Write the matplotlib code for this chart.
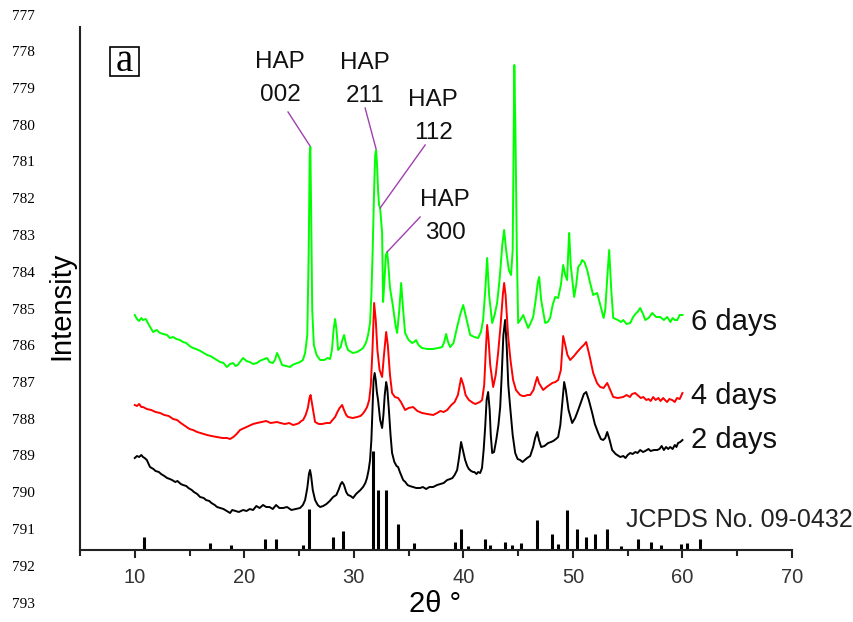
import matplotlib
matplotlib.use("Agg")
import matplotlib.pyplot as plt
from matplotlib.patches import Rectangle

plt.rcParams["font.family"] = ["Liberation Sans", "DejaVu Sans"]

# %% XRD patterns (2theta in deg, intensity in a.u., curves already offset)
x2d = [10.0, 10.2, 10.4, 10.6, 10.75, 10.9, 11.1, 11.39, 11.7, 11.9, 12.2, 12.4, 12.7,
       12.95, 13.2, 13.4, 13.7, 13.9, 14.2, 14.41, 14.7, 14.9, 15.2, 15.4, 15.7, 15.96,
       16.3, 16.5, 16.8, 17.0, 17.3, 17.51, 17.8, 18.1, 18.4, 18.70, 18.9, 19.2, 19.5,
       19.89, 20.2, 20.5, 20.8, 21.1, 21.4, 21.71, 22.0, 22.3, 22.6, 22.9, 23.2, 23.54,
       23.9, 24.3, 24.7, 25.09, 25.35, 25.55, 25.75, 25.9, 26.0, 26.1, 26.25, 26.46,
       26.7, 26.92, 27.2, 27.5, 27.8, 28.11, 28.4, 28.6, 28.8, 28.93, 29.1, 29.3, 29.47,
       29.7, 29.93, 30.2, 30.4, 30.6, 30.84, 31.05, 31.2, 31.35, 31.48, 31.6, 31.7, 31.8,
       31.9, 32.0, 32.1, 32.21, 32.4, 32.58, 32.7, 32.82, 32.95, 33.05, 33.2, 33.35,
       33.49, 33.7, 33.9, 34.04, 34.2, 34.50, 34.7, 34.9, 35.1, 35.41, 35.7, 36.05, 36.3,
       36.6, 36.9, 37.24, 37.6, 37.9, 38.2, 38.52, 38.8, 39.0, 39.2, 39.43, 39.6, 39.79,
       39.95, 40.16, 40.35, 40.5, 40.7, 40.89, 41.0, 41.2, 41.35, 41.53, 41.7, 41.85,
       41.99, 42.12, 42.26, 42.4, 42.5, 42.63, 42.8, 43.0, 43.2, 43.36, 43.5, 43.65,
       43.81, 43.95, 44.1, 44.27, 44.5, 44.73, 44.95, 45.18, 45.4, 45.5, 45.82, 46.1,
       46.37, 46.55, 46.74, 46.9, 47.10, 47.4, 47.74, 48.0, 48.2, 48.45, 48.65, 48.85,
       49.05, 49.20, 49.35, 49.6, 49.93, 50.2, 50.48, 50.8, 51.0, 51.21, 51.45, 51.76,
       52.0, 52.31, 52.55, 52.76, 52.95, 53.13, 53.35, 53.58, 53.9, 54.32, 54.6, 54.8,
       55.0, 55.23, 55.45, 55.7, 55.9, 56.14, 56.4, 56.6, 56.9, 57.1, 57.4, 57.69, 57.9,
       58.1, 58.3, 58.5, 58.7, 58.88, 59.1, 59.3, 59.45, 59.6, 59.8, 60.0]
y2d = [92, 94, 93, 95, 93, 92, 90, 83, 81, 79, 78, 76, 74,
       72, 71, 70, 68, 69, 66, 65, 64, 62, 60, 58, 56, 53,
       52, 50, 49, 47, 45, 43, 42, 41, 39, 37, 40, 39, 38,
       40, 39, 41, 40, 44, 42, 45, 43, 43, 41, 45, 42, 42,
       43, 40, 41, 42, 45, 50, 62, 76, 80, 74, 60, 50,
       45, 43, 44, 46, 49, 53, 55, 60, 66, 68, 65, 58, 55,
       54, 52, 56, 58, 60, 63, 67, 72, 80, 90, 110, 140, 170,
       177, 170, 158, 150, 130, 122, 135, 155, 168, 162, 140, 115,
       97, 88, 84, 83, 78, 70, 68, 65, 64, 63, 62, 62, 63,
       61, 63, 63, 65, 66, 67, 70, 71, 72, 75, 80, 92, 108,
       100, 90, 84, 81, 79, 78, 78, 76, 78, 77, 82, 100,
       123, 150, 158, 140, 115, 97, 98, 110, 125, 143, 175, 215,
       230, 205, 165, 143, 115, 97, 91, 90, 88, 89, 92, 94,
       103, 112, 118, 110, 103, 104, 107, 108, 109, 111, 113, 125,
       150, 168, 160, 140, 127, 132, 140, 150, 156, 158, 150, 137,
       126, 117, 111, 110, 112, 118, 110, 100, 96, 93, 94, 92,
       95, 97, 96, 98, 97, 100, 98, 99, 101, 99, 100, 100, 101,
       104, 100, 103, 101, 103, 101, 105, 103, 107, 108, 110]

x4d = [10.0, 10.2, 10.4, 10.6, 10.75, 11.1, 11.5, 11.9, 12.31, 12.7, 13.1, 13.5, 13.86,
       14.2, 14.6, 15.0, 15.32, 15.7, 16.0, 16.3, 16.60, 17.0, 17.5, 18.0, 18.42, 18.7,
       19.0, 19.3, 19.61, 20.0, 20.4, 20.8, 21.16, 21.6, 22.0, 22.4, 22.99, 23.3, 23.7,
       24.1, 24.45, 24.8, 25.0, 25.2, 25.37, 25.6, 25.8, 25.95, 26.05, 26.2, 26.46, 26.8,
       27.1, 27.5, 27.83, 28.05, 28.29, 28.5, 28.7, 28.93, 29.1, 29.3, 29.47, 29.9, 30.30,
       30.6, 30.8, 31.0, 31.21, 31.4, 31.55, 31.7, 31.85, 32.0, 32.15, 32.35, 32.58, 32.75,
       32.95, 33.1, 33.3, 33.49, 33.75, 34.04, 34.3, 34.68, 35.0, 35.41, 35.8, 36.23, 36.7,
       37.24, 37.6, 37.9, 38.2, 38.52, 38.9, 39.2, 39.5, 39.79, 40.0, 40.2, 40.5, 40.89,
       41.1, 41.3, 41.5, 41.71, 41.9, 42.05, 42.17, 42.3, 42.45, 42.72, 42.95, 43.17, 43.4,
       43.6, 43.72, 43.85, 44.09, 44.3, 44.54, 44.8, 45.18, 45.4, 45.6, 45.85, 46.10, 46.4,
       46.6, 46.74, 46.9, 47.28, 47.6, 48.11, 48.4, 48.65, 48.9, 49.11, 49.3, 49.5, 49.75,
       50.1, 50.39, 50.8, 51.0, 51.21, 51.5, 51.85, 52.2, 52.49, 52.8, 53.13, 53.4, 53.68,
       54.1, 54.59, 54.9, 55.2, 55.4, 55.68, 56.0, 56.2, 56.42, 56.7, 56.9, 57.1, 57.33,
       57.55, 57.8, 58.0, 58.24, 58.4, 58.6, 58.8, 59.06, 59.3, 59.5, 59.75, 60.0]
y4d = [145, 144, 146, 143, 143, 141, 140, 138, 137, 135, 134, 131, 130,
       127, 124, 121, 120, 118, 117, 116, 115, 114, 113, 112, 112, 111,
       113, 116, 120, 122, 124, 126, 127, 128, 129, 127, 128, 127, 126,
       127, 125, 126, 127, 129, 130, 135, 142, 152, 155, 145, 128, 126,
       126, 127, 127, 130, 133, 138, 142, 145, 140, 135, 133, 132, 133,
       134, 136, 139, 143, 150, 165, 200, 247, 230, 200, 180, 173, 195,
       218, 205, 175, 157, 153, 152, 148, 140, 142, 143, 139, 137, 136,
       135, 137, 139, 138, 140, 145, 148, 155, 172, 165, 155, 150, 147,
       146, 147, 148, 150, 165, 200, 225, 210, 185, 163, 175, 197, 225,
       255, 267, 255, 213, 190, 170, 160, 155, 154, 154, 155, 155, 160,
       168, 173, 167, 160, 163, 167, 168, 170, 180, 214, 205, 195, 190,
       194, 198, 203, 205, 208, 195, 177, 167, 163, 162, 167, 160, 153,
       152, 153, 155, 153, 156, 157, 154, 152, 153, 150, 151, 149, 153,
       150, 152, 149, 152, 150, 148, 151, 150, 148, 152, 151, 157]

x6d = [10.0, 10.2, 10.4, 10.6, 10.75, 11.0, 11.3, 11.67, 12.0, 12.3, 12.6, 12.95, 13.2,
       13.5, 13.8, 14.13, 14.4, 14.7, 15.0, 15.32, 15.6, 16.0, 16.3, 16.60, 16.9, 17.2,
       17.5, 17.79, 18.1, 18.4, 18.7, 18.97, 19.2, 19.4, 19.6, 19.89, 20.2, 20.5, 20.8,
       21.16, 21.4, 21.6, 21.85, 22.08, 22.3, 22.6, 22.8, 22.99, 23.2, 23.45, 23.8, 24.18,
       24.4, 24.6, 24.85, 25.09, 25.35, 25.55, 25.75, 25.88, 25.97, 26.03, 26.1, 26.2,
       26.35, 26.6, 26.92, 27.3, 27.6, 27.83, 28.0, 28.15, 28.29, 28.42, 28.56, 28.8,
       28.95, 29.11, 29.3, 29.47, 29.9, 30.30, 30.6, 30.84, 31.1, 31.3, 31.48, 31.6, 31.72,
       31.85, 31.95, 32.03, 32.12, 32.21, 32.30, 32.40, 32.49, 32.58, 32.67, 32.8, 32.92,
       33.04, 33.15, 33.3, 33.58, 33.8, 33.95, 34.15, 34.32, 34.5, 34.68, 35.0, 35.32,
       35.5, 35.68, 35.9, 36.23, 36.7, 37.24, 37.7, 38.06, 38.25, 38.42, 38.6, 38.79, 39.1,
       39.43, 39.7, 39.98, 40.2, 40.62, 41.0, 41.35, 41.6, 41.80, 42.0, 42.17, 42.35,
       42.63, 42.85, 43.08, 43.3, 43.55, 43.72, 43.9, 44.15, 44.35, 44.50, 44.58, 44.65,
       44.75, 44.88, 45.00, 45.2, 45.46, 45.7, 45.91, 46.1, 46.37, 46.6, 46.8, 46.92,
       47.1, 47.47, 47.7, 47.92, 48.15, 48.38, 48.65, 48.9, 49.11, 49.3, 49.47, 49.58,
       49.66, 49.8, 50.11, 50.3, 50.48, 50.7, 50.84, 51.05, 51.30, 51.55, 51.85, 52.21,
       52.5, 52.8, 52.95, 53.15, 53.31, 53.5, 53.68, 54.1, 54.4, 54.59, 54.9, 55.23, 55.5,
       55.7, 55.9, 56.14, 56.4, 56.60, 56.9, 57.24, 57.6, 57.97, 58.3, 58.61, 58.9, 59.1,
       59.3, 59.52, 59.75, 60.0]
y6d = [235, 231, 229, 232, 230, 231, 225, 218, 220, 217, 216, 215, 212,
       213, 211, 210, 208, 207, 204, 202, 201, 199, 197, 195, 194, 192,
       190, 188, 187, 183, 186, 187, 184, 185, 188, 192, 189, 188, 186,
       187, 189, 190, 191, 192, 188, 187, 190, 197, 192, 185, 184, 183,
       185, 186, 187, 188, 190, 197, 215, 300, 395, 403, 340, 240,
       205, 195, 190, 190, 192, 191, 200, 220, 231, 220, 200, 203,
       210, 215, 205, 200, 197, 198, 200, 202, 207, 215, 227, 255, 300,
       360, 395, 400, 385, 360, 345, 342, 330, 317, 248, 270, 295,
       298, 285, 262, 243, 225, 217, 240, 267, 240, 217, 210, 207,
       208, 210, 205, 202, 201, 201, 202, 203, 208, 216, 208, 203, 207,
       223, 235, 245, 235, 215, 213, 212, 218, 230, 260, 292, 255,
       227, 235, 247, 270, 305, 320, 300, 280, 275, 300, 400, 485,
       420, 300, 227, 230, 235, 228, 222, 226, 233, 250, 268, 273,
       250, 227, 228, 232, 245, 253, 252, 265, 285, 275, 270, 300,
       317, 285, 253, 265, 283, 286, 290, 288, 280, 268, 255, 257,
       245, 232, 240, 275, 300, 260, 232, 230, 228, 230, 226, 227, 233,
       236, 238, 242, 236, 230, 232, 237, 233, 233, 230, 233, 228, 232,
       230, 230, 235, 235]

# JCPDS No. 09-0432 reference lines
jcpds_pos = [10.84, 16.9, 18.8, 21.9, 22.9, 25.4, 25.9, 28.1, 28.97, 31.77, 32.2, 32.9,
             34.0, 35.5, 39.2, 39.8, 40.4, 42.0, 42.4, 43.8, 44.4, 45.3, 46.7, 48.1,
             48.6, 49.5, 50.4, 51.2, 52.0, 53.1, 54.4, 55.9, 57.1, 58.0, 59.9, 60.4, 61.6]
jcpds_int = [13, 7, 5, 11, 11, 5, 41, 13, 19, 99, 60, 60,
             26, 7, 8, 21, 4, 11, 5, 8, 5, 7, 30, 16,
             6, 40, 21, 13, 16, 21, 4, 11, 8, 5, 6, 7, 11]

# HAP peak labels: (hkl, text x, text y, line start, line end)
hap_labels = ["002", "211", "112", "300"]
hap_text_xy = [(23.26, 488), (31.03, 487), (37.24, 450), (38.33, 350)]
hap_lines = [((23.99, 438), (26.0, 404)), ((31.03, 442), (32.03, 401)),
             ((36.51, 405), (32.40, 342)), ((36.05, 333), (33.04, 298))]

days = ["2 days", "4 days", "6 days"]
day_label_y = [110, 154, 228]

# %% plot
fig = plt.figure(figsize=(8.54, 6.22), dpi=100)
ax = fig.add_axes([80 / 854, 72 / 622, 712 / 854, 523 / 622])

ax.plot(x2d, y2d, color="black", lw=1.4)
ax.plot(x4d, y4d, color="#ff0000", lw=1.4)
ax.plot(x6d, y6d, color="#00ff00", lw=1.4)
ax.vlines(jcpds_pos, 0, jcpds_int, color="black", lw=2.2)

for hkl, (tx, ty), (p0, p1) in zip(hap_labels, hap_text_xy, hap_lines):
    ax.text(tx, ty, "HAP", ha="center", va="center", fontsize=17.5, color="#111111")
    ax.text(tx, ty - 33, hkl, ha="center", va="center", fontsize=17.5, color="#111111")
    ax.plot([p0[0], p1[0]], [p0[1], p1[1]], color="#a040b0", lw=1)

for lab, ly in zip(days, day_label_y):
    ax.text(60.8, ly, lab, ha="left", va="center", fontsize=21, color="#111111")

ax.text(54.8, 30, "JCPDS No. 09-0432", ha="left", va="center", fontsize=18,
        color="#222222")

# boxed panel label
ax.add_patch(Rectangle((30 / 712, 474 / 523), 29 / 712, 29 / 523, transform=ax.transAxes,
                       fill=False, ec="black", lw=1.2))
ax.text(44.5 / 712, 488.5 / 523, "a", transform=ax.transAxes, ha="center", va="center",
        fontsize=28, family="Liberation Serif")

ax.set_xlim(5, 70)
ax.set_ylim(0, 523)
ax.set_xticks([10, 20, 30, 40, 50, 60, 70])
ax.set_xticks([5, 15, 25, 35, 45, 55, 65], minor=True)
ax.set_yticks([])
for s in ["top", "right"]:
    ax.spines[s].set_visible(False)
for s in ["left", "bottom"]:
    ax.spines[s].set_linewidth(1.5)
    ax.spines[s].set_color("#222222")
ax.tick_params(axis="x", which="major", length=6, width=1.5, pad=7,
               labelsize=14.5, labelcolor="#333333", color="#222222")
ax.tick_params(axis="x", which="minor", length=4, width=1.5, color="#222222")

fig.text(435 / 854, 1 - 604 / 622, "2θ °", ha="center", va="center", fontsize=21)
fig.text(61 / 854, 1 - 306 / 622, "Intensity", ha="center", va="center",
         rotation=90, fontsize=21)

# manuscript line numbers
for i, num in enumerate(range(777, 794)):
    fig.text(12 / 854, 1 - (16 + 36.75 * i) / 622, str(num), ha="left", va="center",
             fontsize=11, family="Liberation Serif")

fig.savefig("out.png", dpi=100)
